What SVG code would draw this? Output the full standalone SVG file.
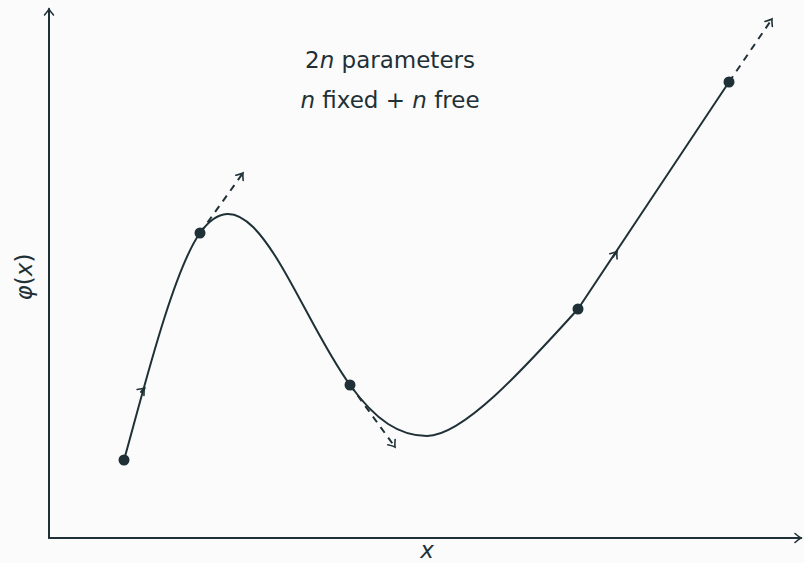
<svg xmlns="http://www.w3.org/2000/svg" width="804" height="563" viewBox="0 0 804 563">
<style>
.ln{fill:none;stroke:#1f3137;stroke-width:2;stroke-linecap:round;stroke-linejoin:round}
.ds{fill:none;stroke:#1f3137;stroke-width:2;stroke-dasharray:7 6}
.dot{fill:#1f3137}
.t{font-family:"DejaVu Sans","Liberation Sans",sans-serif;font-size:23px;fill:#1f3137}
.i{font-style:italic}
</style>
<defs>
<marker id="ah" viewBox="-8 -6 10 12" markerWidth="10" markerHeight="12" refX="0" refY="0" orient="auto" markerUnits="userSpaceOnUse">
<path d="M-6,-4.5 Q-2,-1 0,0 Q-2,1 -6,4.5" fill="none" stroke="#1f3137" stroke-width="1.6" stroke-linecap="round"/>
</marker>
</defs>
<rect width="804" height="563" fill="#fbfbfb"/>
<g id="axes">
<line class="ln" x1="49" y1="538" x2="49" y2="9" marker-end="url(#ah)"/>
<line class="ln" x1="49" y1="538" x2="801" y2="538" marker-end="url(#ah)"/>
</g>
<g id="labels">
<text class="t i" x="427" y="558" text-anchor="middle">x</text>
<text class="t" transform="translate(32,277) rotate(-90)" text-anchor="middle"><tspan class="i">φ</tspan>(<tspan class="i">x</tspan>)</text>
<text class="t" x="390" y="68" text-anchor="middle">2<tspan class="i">n</tspan> parameters</text>
<text class="t" x="390" y="108" text-anchor="middle"><tspan class="i">n</tspan> fixed + <tspan class="i">n</tspan> free</text>
</g>
<g id="connectors">
<path class="ln" d="M124,460 C140,404 172,272 200,233 C251.6,161 296,311 350,385"/>
<path class="ln" d="M350,385 C376,421 400,436 427,436 C464,436 528,364 578,309 C628,234 680,155 729,82"/>
<path class="ln" d="M141,392 L144.5,388" marker-end="url(#ah)"/>
<path class="ln" d="M613,257 L617,251.5" marker-end="url(#ah)"/>
<path class="ds" d="M200,233 L243,173" marker-end="url(#ah)"/>
<path class="ds" d="M350,385 L395,447" marker-end="url(#ah)"/>
<path class="ds" d="M729,82 L772,19" marker-end="url(#ah)"/>
</g>
<g id="points">
<circle class="dot" cx="124" cy="460" r="5.5"/>
<circle class="dot" cx="200" cy="233" r="5.5"/>
<circle class="dot" cx="350" cy="385" r="5.5"/>
<circle class="dot" cx="578" cy="309" r="5.5"/>
<circle class="dot" cx="729" cy="82" r="5.5"/>
</g>
</svg>
